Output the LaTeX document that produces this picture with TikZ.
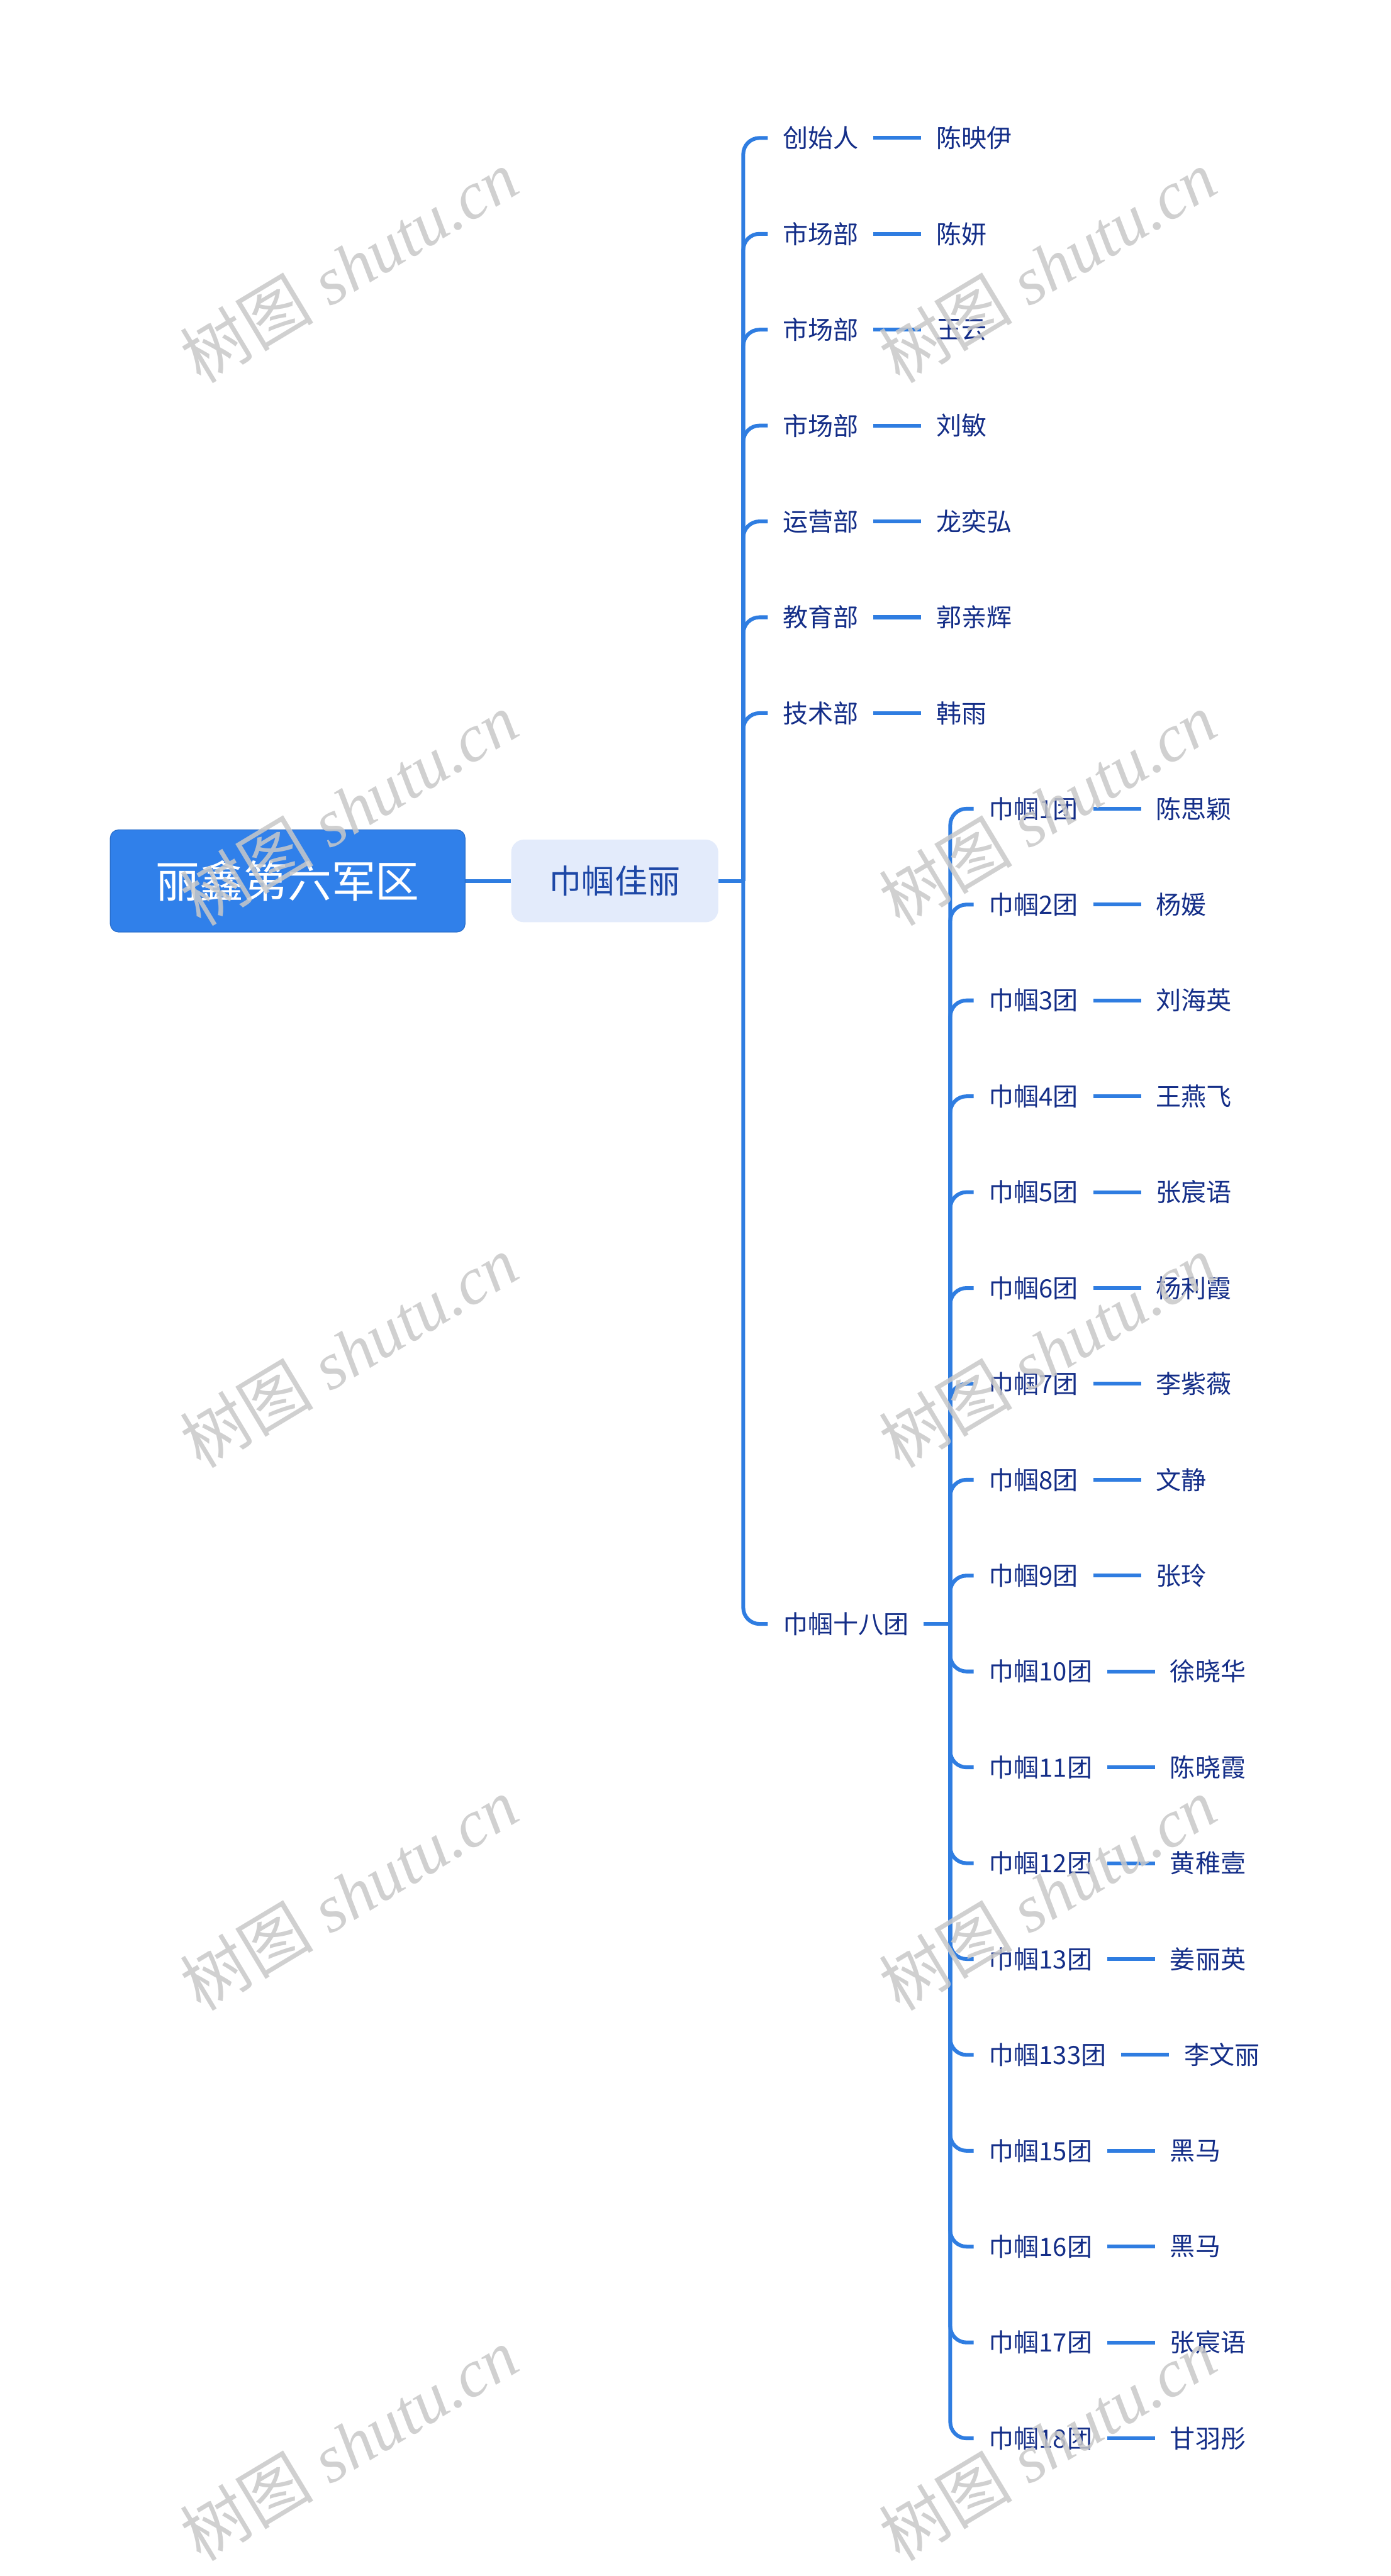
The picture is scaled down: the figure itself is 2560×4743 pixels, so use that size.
\documentclass[tikz,border=0pt]{standalone}
\usepackage{fontspec}
\setmainfont{Noto Sans CJK SC}
\newfontfamily\cjkfont{Noto Sans CJK SC}
\newfontfamily\wmlatin{Liberation Serif}
\definecolor{linec}{HTML}{2F7DE1}
\definecolor{rootc}{HTML}{3080EA}
\definecolor{rootborder}{HTML}{2A6FCC}
\definecolor{subc}{HTML}{E3EBFB}
\definecolor{subtext}{HTML}{1D47A6}
\definecolor{itemtext}{HTML}{142E88}
\definecolor{wmc}{HTML}{C8C8C8}
\begin{document}
\begin{tikzpicture}[x=0.1mm,y=-0.1mm,
  rootbox/.style={rectangle, rounded corners=1.5mm, fill=rootc, draw=rootborder, line width=0.4pt,
    text=white, font=\fontsize{23pt}{27pt}\selectfont, minimum width=65.3mm, minimum height=18.8mm, inner sep=0pt},
  subbox/.style={rectangle, rounded corners=2.3mm, fill=subc, text=subtext,
    font=\fontsize{17.2pt}{20pt}\selectfont, minimum width=38.1mm, minimum height=15.2mm, inner sep=0pt},
  item/.style={anchor=west, inner xsep=2.7mm, inner ysep=0pt, text=itemtext,
    font=\fontsize{13.2pt}{16pt}\selectfont},
  conn/.style={draw=linec, line width=0.7mm},
  branch/.style={conn, rounded corners=3mm},
  wm/.style={text=wmc, opacity=0.85, inner sep=0pt}
]
\useasboundingbox (0,0) rectangle (2560,4743);
\fill[white] (0,0) rectangle (2560,4743);

\node[rootbox] (root) at (529.5,1622) {丽鑫第六军区};
\node[subbox] (jg) at (1131.5,1622) {巾帼佳丽};
\draw[conn] (root.east) -- (jg.west);
\coordinate (b1) at (1368,1622);
\draw[conn] (jg.east) -- (b1);

% level 2
\foreach \lab/\leaf [count=\i from 0] in {创始人/陈映伊, 市场部/陈妍, 市场部/王云, 市场部/刘敏, 运营部/龙奕弘, 教育部/郭亲辉, 技术部/韩雨}{
  \node[item] (a\i) at (1413,{254+176.5*\i}) {\lab};
  \node[item] (al\i) at ([xshift=8.8mm]a\i.east) {\leaf};
  \draw[branch] (b1) |- (a\i.west);
  \draw[conn] (a\i.east) -- (al\i.west);
}
\node[item] (t18) at (1413,2990) {巾帼十八团};
\draw[branch] (b1) |- (t18.west);
\coordinate (b2) at (1749,2990);
\draw[conn] (t18.east) -- (b2);

% level 3
\foreach \lab/\leaf [count=\i from 0] in {1/陈思颖, 2/杨媛, 3/刘海英, 4/王燕飞, 5/张宸语, 6/杨利霞, 7/李紫薇, 8/文静, 9/张玲, 10/徐晓华, 11/陈晓霞, 12/黄稚壹, 13/姜丽英, 133/李文丽, 15/黑马, 16/黑马, 17/张宸语, 18/甘羽彤}{
  \node[item] (g\i) at (1792,{1489+176.5*\i}) {巾帼\lab 团};
  \node[item] (gl\i) at ([xshift=8.8mm]g\i.east) {\leaf};
  \draw[branch] (b2) |- (g\i.west);
  \draw[conn] (g\i.east) -- (gl\i.west);
}

% watermarks
\foreach \y/\n in {490/1,1489/2,2488/3,3487/4,4500/5}{
  \foreach \x/\m in {642/l,1928/r}{
    \node[wm, rotate=31] (wm\n\m) at (\x,\y) {\fontsize{35pt}{40pt}\selectfont{\cjkfont 树图}\hspace{0.25em}{\wmlatin\itshape shutu.cn}};
  }
}
\end{tikzpicture}
\end{document}
